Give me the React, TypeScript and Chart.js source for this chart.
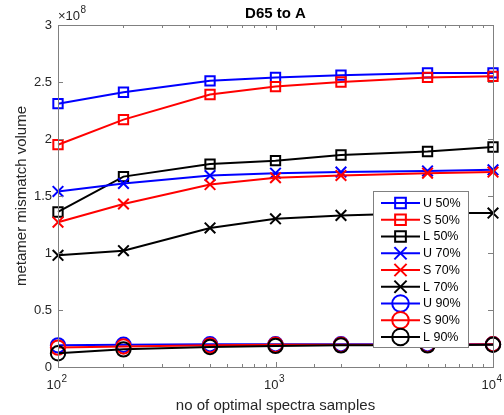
import React, { useEffect, useRef } from 'react';
import { Chart, registerables } from 'chart.js';

Chart.register(...registerables);

const samples = [100, 200, 500, 1000, 2000, 5000, 10000];

const u50 = [2.31e8, 2.41e8, 2.51e8, 2.54e8, 2.56e8, 2.58e8, 2.58e8];
const s50 = [1.95e8, 2.17e8, 2.39e8, 2.46e8, 2.50e8, 2.54e8, 2.55e8];
const l50 = [1.36e8, 1.67e8, 1.78e8, 1.81e8, 1.86e8, 1.89e8, 1.93e8];
const u70 = [1.54e8, 1.61e8, 1.68e8, 1.70e8, 1.71e8, 1.72e8, 1.73e8];
const s70 = [1.27e8, 1.43e8, 1.60e8, 1.66e8, 1.68e8, 1.70e8, 1.71e8];
const l70 = [0.98e8, 1.02e8, 1.22e8, 1.30e8, 1.33e8, 1.35e8, 1.35e8];
const u90 = [0.19e8, 0.195e8, 0.2e8, 0.2e8, 0.2e8, 0.2e8, 0.2e8];
const s90 = [0.17e8, 0.18e8, 0.19e8, 0.195e8, 0.195e8, 0.195e8, 0.2e8];
const l90 = [0.12e8, 0.155e8, 0.175e8, 0.185e8, 0.19e8, 0.19e8, 0.195e8];

const seriesLabels = ['U 50%', 'S 50%', 'L 50%', 'U 70%', 'S 70%', 'L 70%', 'U 90%', 'S 90%', 'L 90%'];
const seriesValues = [u50, s50, l50, u70, s70, l70, u90, s90, l90];
const seriesColors = ['#0000ff', '#ff0000', '#000000', '#0000ff', '#ff0000', '#000000', '#0000ff', '#ff0000', '#000000'];
const seriesMarkers = ['rect', 'rect', 'rect', 'crossRot', 'crossRot', 'crossRot', 'circle', 'circle', 'circle'];

const titleText = 'D65 to A';
const xTitle = 'no of optimal spectra samples';
const yTitle = 'metamer mismatch volume';
const yExponent = '8';
const yTicks = [0, 0.5e8, 1e8, 1.5e8, 2e8, 2.5e8, 3e8];
const xDecades = [100, 1000, 10000];

const FONT = '"Liberation Sans", Arial, Helvetica, sans-serif';
const AXIS = '#808080';
const TEXT = '#262626';

function markerRadius(m: string) {
  if (m === 'circle') return 7.2;
  if (m === 'crossRot') return 7.5;
  return 6.6;
}

function drawMarker(ctx: CanvasRenderingContext2D, m: string, x: number, y: number, color: string, scale: number) {
  ctx.save();
  ctx.strokeStyle = color;
  ctx.lineWidth = 2;
  ctx.beginPath();
  const r = markerRadius(m) * scale;
  if (m === 'rect') {
    const s = Math.SQRT1_2 * r;
    ctx.rect(x - s, y - s, 2 * s, 2 * s);
  } else if (m === 'crossRot') {
    const s = Math.SQRT1_2 * r;
    ctx.moveTo(x - s, y - s);
    ctx.lineTo(x + s, y + s);
    ctx.moveTo(x - s, y + s);
    ctx.lineTo(x + s, y - s);
  } else {
    ctx.arc(x, y, r, 0, Math.PI * 2);
  }
  ctx.stroke();
  ctx.restore();
}

const decorPlugin = {
  id: 'matlabDecor',
  afterDatasetsDraw(chart: any) {
    const ctx: CanvasRenderingContext2D = chart.ctx;
    const { left, right, top, bottom } = chart.chartArea;
    const xs = chart.scales.x;
    const ys = chart.scales.y;
    ctx.save();
    // box
    ctx.strokeStyle = AXIS;
    ctx.lineWidth = 1;
    ctx.strokeRect(Math.round(left) + 0.5, Math.round(top) + 0.5, Math.round(right - left), Math.round(bottom - top));
    // ticks
    ctx.beginPath();
    xs.ticks.forEach((t: any) => {
      const v = t.value;
      if (v < 100 || v > 10000) return;
      const px = Math.round(xs.getPixelForValue(v)) + 0.5;
      const isMajor = Math.abs(Math.log10(v) - Math.round(Math.log10(v))) < 1e-9;
      const len = isMajor ? 5 : 3;
      ctx.moveTo(px, bottom);
      ctx.lineTo(px, bottom - len);
      ctx.moveTo(px, top);
      ctx.lineTo(px, top + len);
    });
    ys.ticks.forEach((t: any) => {
      const py = Math.round(ys.getPixelForValue(t.value)) + 0.5;
      ctx.moveTo(left, py);
      ctx.lineTo(left + 5, py);
      ctx.moveTo(right, py);
      ctx.lineTo(right - 5, py);
    });
    ctx.stroke();

    ctx.fillStyle = TEXT;
    // x tick labels with superscript
    xDecades.forEach((v) => {
      const px = xs.getPixelForValue(v) - 1.5;
      const exp = String(Math.round(Math.log10(v)));
      ctx.font = `13px ${FONT}`;
      const wBase = ctx.measureText('10').width;
      ctx.font = `10px ${FONT}`;
      const wExp = ctx.measureText(exp).width;
      const x0 = px - (wBase + wExp) / 2;
      ctx.textAlign = 'left';
      ctx.textBaseline = 'alphabetic';
      ctx.font = `13px ${FONT}`;
      ctx.fillText('10', x0, 389);
      ctx.font = `10px ${FONT}`;
      ctx.fillText(exp, x0 + wBase + 0.5, 382);
    });

    // exponent label
    ctx.font = `13px ${FONT}`;
    ctx.textAlign = 'left';
    ctx.textBaseline = 'alphabetic';
    ctx.fillText('\u00d710', left, 20);
    const wx = ctx.measureText('\u00d710').width;
    ctx.font = `10px ${FONT}`;
    ctx.fillText(yExponent, left + wx + 0.5, 13);

    // title
    ctx.font = `bold 15px ${FONT}`;
    ctx.textAlign = 'center';
    ctx.fillStyle = '#000';
    ctx.fillText(titleText, (left + right) / 2, 18);

    // axis titles
    ctx.fillStyle = TEXT;
    ctx.font = `15px ${FONT}`;
    ctx.textAlign = 'center';
    ctx.fillText(xTitle, (left + right) / 2, 410);
    ctx.save();
    ctx.translate(26, (top + bottom) / 2);
    ctx.rotate(-Math.PI / 2);
    ctx.fillText(yTitle, 0, 0);
    ctx.restore();

    // legend
    const lx = 373, ly = 191, lw = 95, itemH = 16.75;
    const lh = 156;
    ctx.fillStyle = '#ffffff';
    ctx.fillRect(lx, ly, lw, lh);
    ctx.strokeStyle = AXIS;
    ctx.lineWidth = 1;
    ctx.strokeRect(lx + 0.5, ly + 0.5, lw, lh);
    chart.data.datasets.forEach((ds: any, i: number) => {
      const cy = ly + 12 + i * itemH;
      ctx.strokeStyle = ds.borderColor;
      ctx.lineWidth = 2;
      ctx.beginPath();
      ctx.moveTo(381, cy);
      ctx.lineTo(420, cy);
      ctx.stroke();
      drawMarker(ctx, ds.pointStyle, 400.5, cy, ds.borderColor, 1.15);
      ctx.fillStyle = '#000';
      ctx.font = `12.5px ${FONT}`;
      ctx.textAlign = 'left';
      ctx.textBaseline = 'middle';
      ctx.fillText(ds.label, 423, cy + 0.5);
    });
    ctx.restore();
  },
};

export default function App() {
  const ref = useRef<HTMLCanvasElement>(null);
  useEffect(() => {
    document.body.style.margin = '0';
    const canvas = ref.current;
    if (!canvas) return;
    const chart = new Chart(canvas, {
      type: 'line',
      data: {
        datasets: seriesLabels.map((label, i) => ({
          label,
          data: samples.map((x, j) => ({ x, y: seriesValues[i][j] })),
          borderColor: seriesColors[i],
          backgroundColor: 'rgba(0,0,0,0)',
          borderWidth: 2,
          pointStyle: seriesMarkers[i] as any,
          pointRadius: markerRadius(seriesMarkers[i]),
          pointHoverRadius: markerRadius(seriesMarkers[i]),
          pointBorderWidth: 2,
          pointBorderColor: seriesColors[i],
          pointBackgroundColor: 'rgba(0,0,0,0)',
          tension: 0,
          fill: false,
          clip: false as any,
          order: -i,
        })),
      },
      options: {
        animation: false,
        responsive: true,
        maintainAspectRatio: false,
        layout: { padding: { top: 25, right: 11, left: 0, bottom: 0 } },
        plugins: {
          legend: { display: false },
          title: { display: false },
          tooltip: { enabled: false },
        },
        scales: {
          x: {
            type: 'logarithmic',
            min: 100,
            max: 10000,
            grid: { display: false, drawTicks: false },
            border: { display: false },
            ticks: { display: false, autoSkip: false },
            afterFit: (s: any) => { s.height = 48; },
          },
          y: {
            type: 'linear',
            min: 0,
            max: 3e8,
            afterBuildTicks: (s: any) => { s.ticks = yTicks.map((v) => ({ value: v })); },
            grid: { display: false, drawTicks: false },
            border: { display: false },
            ticks: {
              padding: 6,
              color: TEXT,
              font: { family: FONT, size: 13 },
              callback: (v: any) => String(Number(v) / 1e8),
            },
            afterFit: (s: any) => { s.width = 58; },
          },
        },
      },
      plugins: [decorPlugin],
    });
    return () => chart.destroy();
  }, []);
  return (
    <div style={{ position: 'relative', width: 504, height: 415 }}>
      <canvas ref={ref} />
    </div>
  );
}
